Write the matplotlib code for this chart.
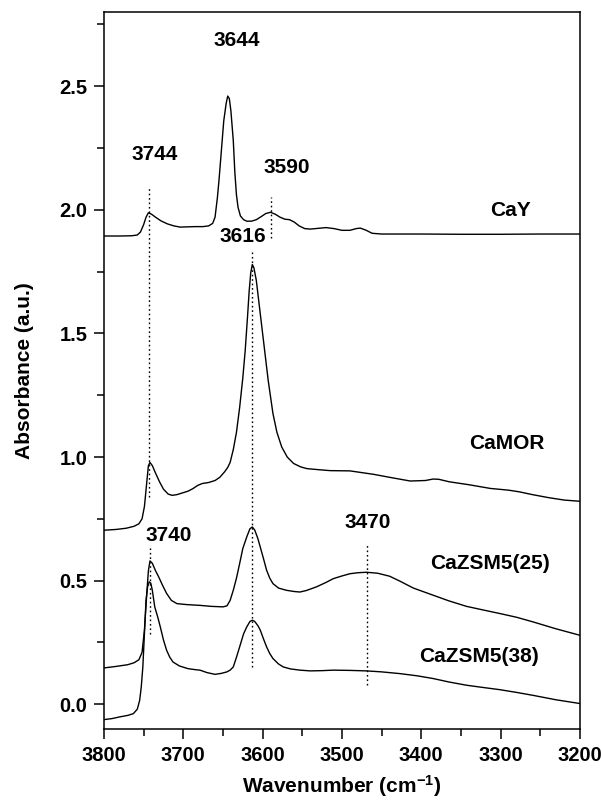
import numpy as np
import matplotlib
matplotlib.use('Agg')
import matplotlib.pyplot as plt
from matplotlib.ticker import MultipleLocator

plt.rcParams['font.family'] = ['Liberation Sans', 'DejaVu Sans']
plt.rcParams['font.weight'] = 'bold'
plt.rcParams['mathtext.fontset'] = 'custom'
plt.rcParams['mathtext.rm'] = 'Liberation Sans:bold'
plt.rcParams['mathtext.bf'] = 'Liberation Sans:bold'
plt.rcParams['mathtext.default'] = 'bf'

# spectra: (wavenumber, absorbance)
cay_x = [3800, 3780, 3765, 3758, 3754, 3750, 3747, 3744, 3740, 3735, 3728, 3720, 3712, 3704,
         3695, 3685, 3675, 3668, 3663, 3660, 3657, 3655, 3652, 3649, 3646, 3644, 3642, 3640,
         3637, 3635, 3633, 3631, 3628, 3624, 3620, 3614, 3608, 3602, 3596, 3590, 3584, 3578,
         3572, 3566, 3560, 3554, 3547, 3540, 3530, 3520, 3510, 3500, 3490, 3482, 3477, 3470,
         3462, 3450, 3400, 3350, 3300, 3250, 3200]
cay_y = [1.894, 1.894, 1.895, 1.898, 1.91, 1.94, 1.97, 1.988, 1.982, 1.97, 1.955, 1.943, 1.935, 1.93,
         1.931, 1.932, 1.932, 1.935, 1.945, 1.97, 2.05, 2.12, 2.24, 2.36, 2.43, 2.46, 2.45, 2.40,
         2.28, 2.15, 2.06, 2.01, 1.975, 1.96, 1.954, 1.954, 1.96, 1.972, 1.985, 1.99, 1.982, 1.97,
         1.962, 1.96, 1.95, 1.935, 1.924, 1.922, 1.925, 1.928, 1.924, 1.917, 1.917, 1.924, 1.926, 1.918,
         1.905, 1.902, 1.902, 1.901, 1.901, 1.902, 1.902]

camor_x = [3800, 3785, 3772, 3762, 3756, 3752, 3749, 3746, 3744, 3742, 3739, 3735, 3730, 3725,
           3719, 3714, 3708, 3700, 3694, 3688, 3682, 3676, 3668, 3660, 3654, 3648, 3644, 3641,
           3637, 3633, 3629, 3625, 3622, 3619, 3617, 3615, 3613, 3611, 3608, 3603, 3598, 3593,
           3587, 3582, 3576, 3569, 3561, 3552, 3544, 3530, 3515, 3490, 3460, 3440, 3414, 3395,
           3385, 3378, 3365, 3340, 3313, 3290, 3276, 3260, 3240, 3220, 3200]
camor_y = [0.704, 0.707, 0.712, 0.72, 0.73, 0.75, 0.80, 0.90, 0.965, 0.978, 0.965, 0.935, 0.9, 0.87,
           0.85, 0.845, 0.848, 0.856, 0.862, 0.872, 0.885, 0.893, 0.897, 0.905, 0.918, 0.94, 0.958, 0.978,
           1.03, 1.10, 1.20, 1.32, 1.43, 1.57, 1.67, 1.745, 1.779, 1.765, 1.715, 1.58, 1.445, 1.31,
           1.176, 1.10, 1.041, 1.0, 0.974, 0.96, 0.953, 0.949, 0.945, 0.944, 0.93, 0.918, 0.903, 0.905,
           0.911, 0.91, 0.9, 0.888, 0.873, 0.866, 0.859, 0.848, 0.836, 0.826, 0.821]

zsm25_x = [3800, 3785, 3770, 3762, 3756, 3752, 3749, 3746, 3744, 3742, 3739, 3735, 3731, 3726,
           3721, 3715, 3708, 3695, 3679, 3665, 3650, 3645, 3641, 3637, 3633, 3629, 3625, 3620,
           3616, 3613, 3610, 3606, 3603, 3599, 3595, 3591, 3587, 3580, 3570, 3560, 3553, 3545,
           3532, 3520, 3511, 3500, 3490, 3480, 3469, 3455, 3440, 3427, 3410, 3385, 3365, 3343,
           3320, 3301, 3280, 3259, 3230, 3200]
zsm25_y = [0.147, 0.153, 0.160, 0.168, 0.18, 0.21, 0.30, 0.45, 0.54, 0.58, 0.57, 0.54, 0.515, 0.48,
           0.448, 0.42, 0.407, 0.403, 0.40, 0.396, 0.394, 0.398, 0.42, 0.461, 0.51, 0.569, 0.63, 0.677,
           0.71, 0.717, 0.705, 0.67, 0.636, 0.59, 0.542, 0.51, 0.488, 0.47, 0.461, 0.456, 0.454, 0.46,
           0.475, 0.493, 0.508, 0.519, 0.528, 0.532, 0.534, 0.53, 0.518, 0.498, 0.47, 0.441, 0.418, 0.396,
           0.38, 0.367, 0.352, 0.333, 0.305, 0.279]

zsm38_x = [3800, 3790, 3780, 3770, 3763, 3758, 3755, 3753, 3751, 3749, 3747, 3745, 3743, 3741,
           3739, 3736, 3732, 3729, 3725, 3721, 3717, 3713, 3705, 3694, 3685, 3679, 3670, 3660,
           3652, 3645, 3641, 3637, 3633, 3629, 3624, 3620, 3616, 3613, 3610, 3606, 3603, 3599,
           3595, 3591, 3587, 3580, 3574, 3565, 3553, 3540, 3525, 3511, 3490, 3469, 3450, 3427,
           3405, 3385, 3365, 3343, 3320, 3301, 3280, 3259, 3230, 3200]
zsm38_y = [-0.062, -0.058, -0.051, -0.045, -0.038, -0.02, 0.016, 0.07, 0.151, 0.286, 0.42, 0.475, 0.495, 0.49,
           0.46, 0.394, 0.35, 0.313, 0.26, 0.218, 0.19, 0.171, 0.155, 0.144, 0.14, 0.138, 0.128, 0.121,
           0.125, 0.131, 0.138, 0.151, 0.19, 0.232, 0.285, 0.313, 0.335, 0.34, 0.335, 0.318, 0.30, 0.265,
           0.232, 0.205, 0.185, 0.163, 0.151, 0.143, 0.138, 0.135, 0.136, 0.138, 0.137, 0.135, 0.131, 0.124,
           0.115, 0.104, 0.09, 0.077, 0.067, 0.059, 0.048, 0.036, 0.018, 0.003]

# dotted guide lines: wavenumber, top, bottom
guide_x = [3743, 3590, 3614, 3742, 3468]
guide_top = [2.09, 2.052, 1.83, 0.643, 0.65]
guide_bot = [0.839, 1.884, 0.151, 0.286, 0.077]

# annotations
peak_labels = ['3644', '3744', '3590', '3616', '3740', '3470']
peak_lx = [3633, 3736, 3569, 3625, 3718, 3468]
peak_ly = [2.686, 2.225, 2.17, 1.89, 0.684, 0.737]

sample_labels = ['CaY', 'CaMOR', 'CaZSM5(25)', 'CaZSM5(38)']
sample_lx = [3288, 3292, 3313, 3327]
sample_ly = [1.998, 1.055, 0.569, 0.195]

fig = plt.figure(figsize=(6.01, 8.01), dpi=100)
ax = fig.add_axes([0.173, 0.0899, 0.792, 0.8951])

for xs, ys in [(cay_x, cay_y), (camor_x, camor_y), (zsm25_x, zsm25_y), (zsm38_x, zsm38_y)]:
    ax.plot(xs, ys, color='black', linewidth=1.0)

ax.vlines(guide_x, guide_bot, guide_top, colors='black', linestyles=(0, (1.2, 2.0)), linewidth=1.0)

for t, x, y in zip(peak_labels, peak_lx, peak_ly):
    ax.text(x, y, t, ha='center', va='center', fontsize=15, fontweight='bold')
for t, x, y in zip(sample_labels, sample_lx, sample_ly):
    ax.text(x, y, t, ha='center', va='center', fontsize=15, fontweight='bold')

ax.set_xlim(3800, 3200)
ax.set_ylim(-0.1, 2.8)
ax.xaxis.set_major_locator(MultipleLocator(100))
ax.xaxis.set_minor_locator(MultipleLocator(50))
ax.yaxis.set_major_locator(MultipleLocator(0.5))
ax.yaxis.set_minor_locator(MultipleLocator(0.25))
ax.yaxis.set_major_formatter(matplotlib.ticker.FormatStrFormatter('%.1f'))
ax.tick_params(which='major', direction='out', length=7, width=1.1, labelsize=14.5, pad=5)
ax.tick_params(which='minor', direction='out', length=5, width=1.1)
for s in ax.spines.values():
    s.set_linewidth(1.1)
for lab in ax.get_xticklabels() + ax.get_yticklabels():
    lab.set_fontweight('bold')

ax.set_xlabel('Wavenumber (cm$^{-1}$)', fontsize=15, fontweight='bold', labelpad=6)
ax.set_ylabel('Absorbance (a.u.)', fontsize=15, fontweight='bold', labelpad=18)

plt.savefig('out.png', dpi=100)
